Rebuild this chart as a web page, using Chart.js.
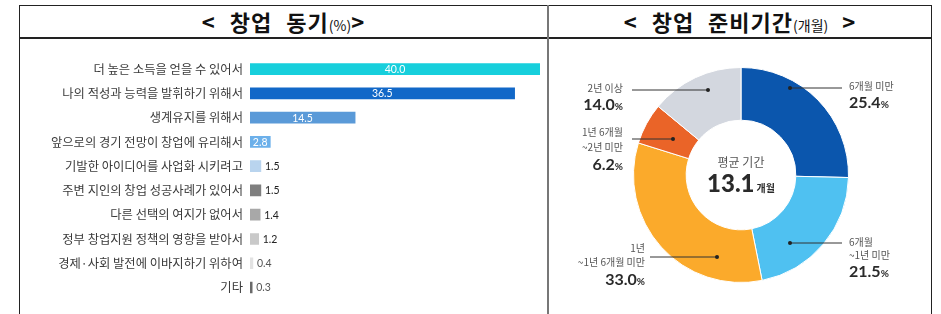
<!DOCTYPE html>
<html><head><meta charset="utf-8">
<script src="https://cdn.jsdelivr.net/npm/chart.js@4"></script>
<style>
body{margin:0;background:#fff;width:941px;height:314px;overflow:hidden;position:relative;font-family:"Noto Sans CJK KR","Noto Sans",sans-serif}
#frame{position:absolute;left:19px;top:5px;width:913px;height:330px;border:1.5px solid #222;box-sizing:border-box}
#hline{position:absolute;left:19px;top:37px;width:913px;height:1.5px;background:#222}
#vline{position:absolute;left:547px;top:5px;width:2px;height:330px;background:#777}
.hdr{position:absolute;top:6px;height:31px;line-height:31px;text-align:center;font-weight:bold;font-size:22px;color:#111;word-spacing:8px;letter-spacing:1px;white-space:pre}
.hdr small{font-weight:normal;font-size:14px;word-spacing:0;letter-spacing:0}
canvas{position:absolute}
</style></head><body>
<div id="frame"></div><div id="hline"></div><div id="vline"></div>
<div class="hdr" style="left:20px;width:527px">&lt; 창업 동기<small>(%)</small>&gt;</div>
<div class="hdr" style="left:549px;width:382px">&lt; 창업 준비기간<small>(개월)</small> &gt;</div>
<canvas id="c1" width="527" height="275" style="left:20px;top:39px"></canvas>
<canvas id="c2" width="382" height="275" style="left:549px;top:39px"></canvas>
<script>
// ---- data ----
const motiveLabels = ['더 높은 소득을 얻을 수 있어서','나의 적성과 능력을 발휘하기 위해서','생계유지를 위해서','앞으로의 경기 전망이 창업에 유리해서','기발한 아이디어를 사업화 시키려고','주변 지인의 창업 성공사례가 있어서','다른 선택의 여지가 없어서','정부 창업지원 정책의 영향을 받아서','경제·사회 발전에 이바지하기 위하여','기타'];
const motiveValues = [40.0, 36.5, 14.5, 2.8, 1.5, 1.5, 1.4, 1.2, 0.4, 0.3];
const periodLabels = [['6개월 미만'], ['6개월', '~1년 미만'], ['1년', '~1년 6개월 미만'], ['1년 6개월', '~2년 미만'], ['2년 이상']];
const periodValues = [25.4, 21.5, 33.0, 6.2, 14.0];
const avgPeriodLabel = '평균 기간';
const avgPeriod = 13.1;
const avgPeriodUnit = '개월';

// ---- styles ----
const motiveColors = ['#17cfdc','#1268c8','#5a9ad8','#6cb0ea','#b9d4ee','#7f7f7f','#a8a8a8','#c9c9c9','#e2e2e2','#6a6a6a'];
const insideCount = 4;
const periodColors = ['#0b56ad','#4fc1f1','#fbaa2b','#ea6428','#d3d7df'];
const KR = '"Noto Sans CJK KR","Noto Sans",sans-serif';
const NUM = 'Lato,"Noto Sans",sans-serif';
// annotation layout relative to doughnut centre
const periodLayout = [
  {dot:[49,-87], lineTo:101, tx:108, align:'left',  ty:[-89], py:-72},
  {dot:[49,68],  lineTo:101, tx:108, align:'left',  ty:[67,80], py:97},
  {dot:[-24,82], lineTo:-91, tx:-96, align:'right', ty:[73,87], py:105},
  {dot:[-68,-36],lineTo:-109,tx:-118,align:'right', ty:[-43,-28], py:-10},
  {dot:[-33,-85],lineTo:-109,tx:-118,align:'right', ty:[-87], py:-70}
];

const barLabels = {
  id:'barLabels',
  afterDatasetsDraw(chart){
    const ctx = chart.ctx, meta = chart.getDatasetMeta(0);
    ctx.save();
    ctx.font = '10.5px ' + NUM;
    ctx.textBaseline = 'middle';
    meta.data.forEach((bar, i) => {
      const v = motiveValues[i].toFixed(1);
      if (i < insideCount) {
        ctx.fillStyle = '#fff'; ctx.textAlign = 'center';
        ctx.fillText(v, (bar.x + bar.base) / 2, bar.y + 0.5);
      } else {
        ctx.fillStyle = i >= 8 ? '#555' : '#222'; ctx.textAlign = 'left';
        ctx.fillText(v, bar.x + 4, bar.y + 0.5);
      }
    });
    ctx.restore();
  }
};

new Chart(document.getElementById('c1'), {
  type:'bar',
  data:{labels:motiveLabels, datasets:[{data:motiveValues, backgroundColor:motiveColors, barThickness:11, borderWidth:0}]},
  options:{
    indexAxis:'y', responsive:false, animation:false, events:[],
    layout:{padding:{top:18, bottom:11, right:7, left:0}},
    plugins:{legend:{display:false}, tooltip:{enabled:false}},
    scales:{
      x:{display:false, min:0, max:40},
      y:{grid:{display:false, drawTicks:false}, border:{display:false},
         ticks:{padding:7, color:'#3a3a3a', font:{size:12.3, family:KR}},
         afterFit(s){ s.width = 230; }}
    }
  },
  plugins:[barLabels]
});

const donutLabels = {
  id:'donutLabels',
  afterDatasetsDraw(chart){
    const ctx = chart.ctx, meta = chart.getDatasetMeta(0);
    const arc0 = meta.data[0];
    const cx = arc0.x, cy = arc0.y;
    ctx.save();
    meta.data.forEach((arc, i) => {
      const L = periodLayout[i];
      const dx = cx + L.dot[0], dy = cy + L.dot[1];
      ctx.strokeStyle = '#333'; ctx.lineWidth = 1;
      ctx.beginPath(); ctx.moveTo(dx, dy); ctx.lineTo(cx + L.lineTo, dy); ctx.stroke();
      ctx.fillStyle = '#222';
      ctx.beginPath(); ctx.arc(dx, dy, 2, 0, Math.PI * 2); ctx.fill();
      ctx.textBaseline = 'middle';
      ctx.textAlign = L.align;
      ctx.font = '10px ' + KR; ctx.fillStyle = '#555';
      periodLabels[i].forEach((t, k) => ctx.fillText(t, cx + L.tx, cy + L.ty[k]));
      // percentage
      const num = periodValues[i].toFixed(1);
      ctx.font = 'bold 16px ' + NUM; const wn = ctx.measureText(num).width;
      ctx.font = 'bold 10px ' + NUM; const wp = ctx.measureText('%').width;
      let x0 = L.align === 'left' ? cx + L.tx : cx + L.tx - wn - wp;
      ctx.textAlign = 'left'; ctx.fillStyle = '#2a2a2a';
      ctx.font = 'bold 16px ' + NUM; ctx.fillText(num, x0, cy + L.py);
      ctx.font = 'bold 10px ' + NUM; ctx.fillText('%', x0 + wn, cy + L.py + 2);
    });
    // centre text
    ctx.textAlign = 'center'; ctx.textBaseline = 'middle';
    ctx.font = '12px ' + KR; ctx.fillStyle = '#555';
    ctx.fillText(avgPeriodLabel, cx, cy - 13);
    const big = avgPeriod.toFixed(1);
    ctx.font = '900 24px ' + NUM; const wb = ctx.measureText(big).width;
    ctx.font = 'bold 10px ' + KR; const wu = ctx.measureText(avgPeriodUnit).width;
    const sx = cx - (wb + wu + 2) / 2;
    ctx.textAlign = 'left'; ctx.fillStyle = '#2a2a2a';
    ctx.font = '900 24px ' + NUM; ctx.fillText(big, sx, cy + 9);
    ctx.font = 'bold 10px ' + KR; ctx.fillText(avgPeriodUnit, sx + wb + 2, cy + 13);
    ctx.restore();
  }
};

new Chart(document.getElementById('c2'), {
  type:'doughnut',
  data:{labels:periodLabels.map(l => l.join(' ')), datasets:[{data:periodValues, backgroundColor:periodColors, borderWidth:1, borderColor:'#fff'}]},
  options:{
    responsive:false, animation:false, events:[], cutout:'51%',
    layout:{padding:{left:84, right:82, top:28, bottom:31}},
    plugins:{legend:{display:false}, tooltip:{enabled:false}}
  },
  plugins:[donutLabels]
});
</script>
</body></html>
